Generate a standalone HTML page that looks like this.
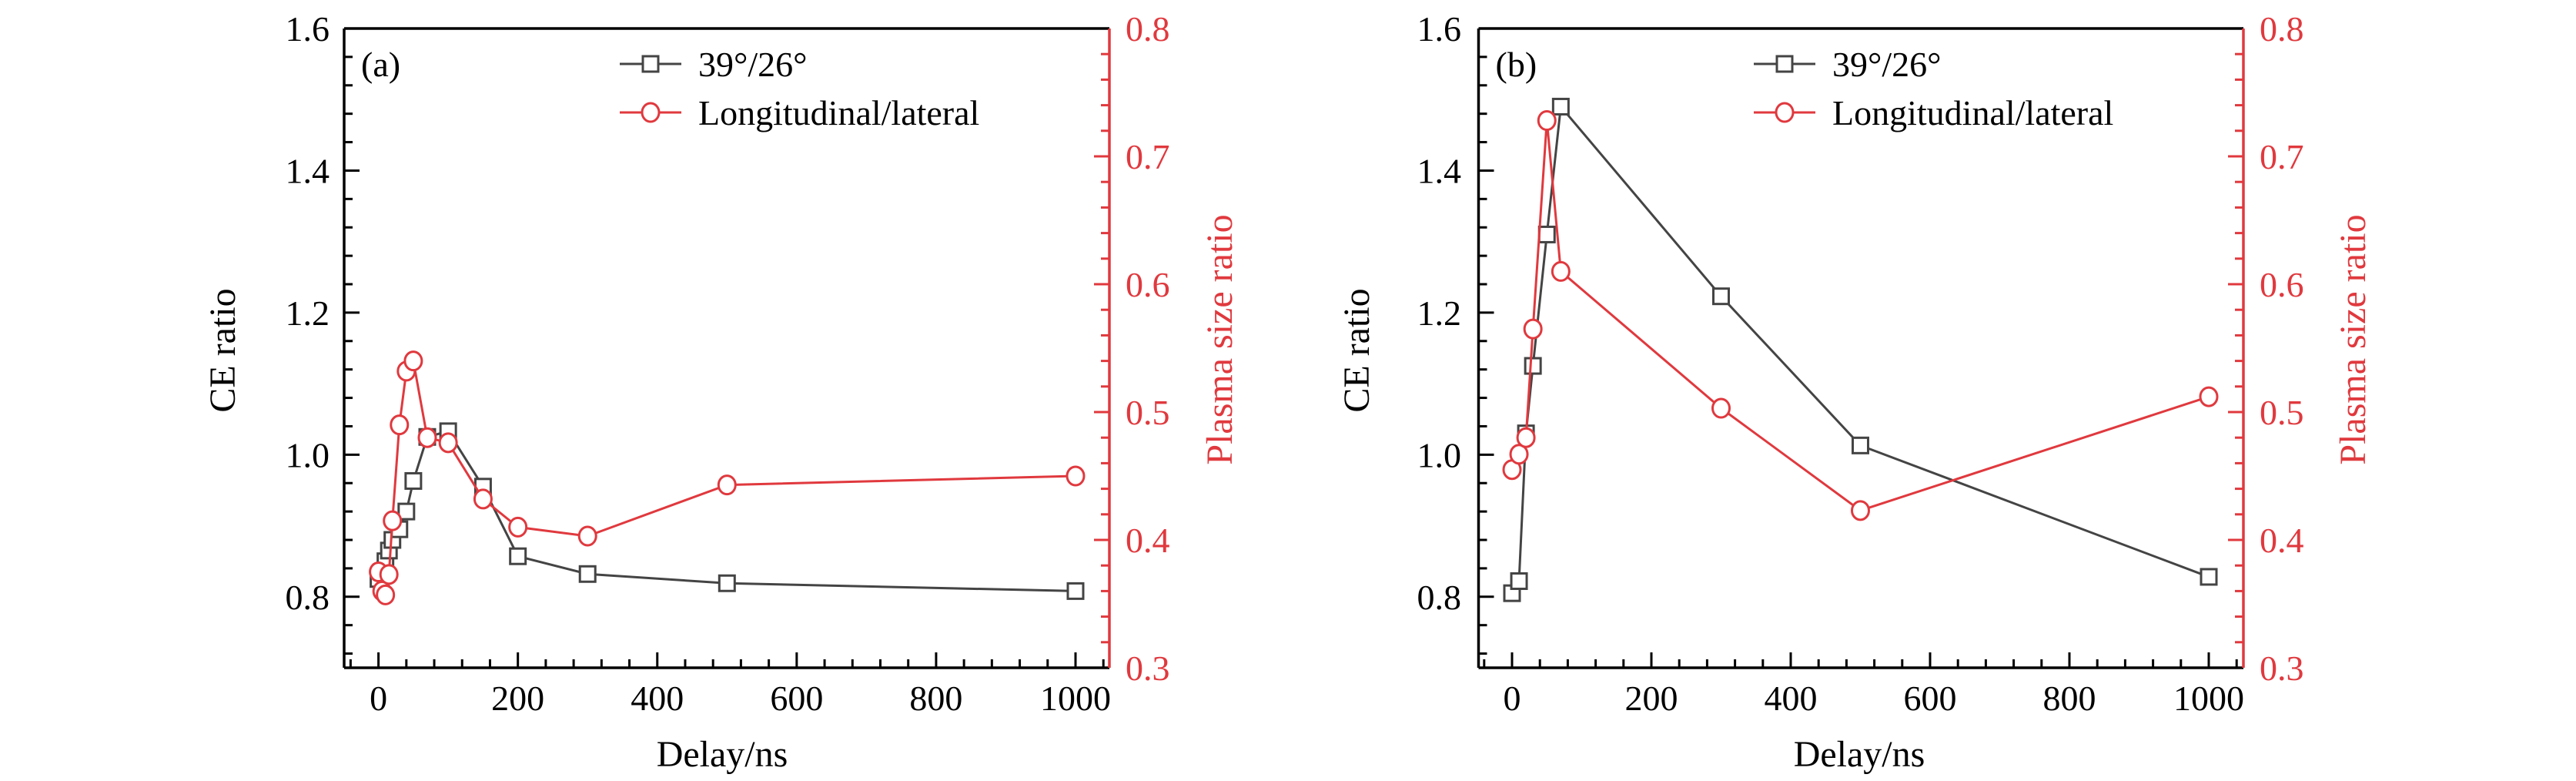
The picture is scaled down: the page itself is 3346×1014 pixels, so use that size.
<!DOCTYPE html>
<html><head><meta charset="utf-8"><style>
html,body{margin:0;padding:0;background:#fff;}
svg{display:block;font-family:"Liberation Serif",serif;}
</style></head><body>
<svg id="chart" width="3346" height="1014" viewBox="0 0 3346 1014"></svg>
<script>
const xTicks=[0,200,400,600,800,1000];
const leftTicks=[0.8,1.0,1.2,1.4,1.6];
const rightTicks=[0.3,0.4,0.5,0.6,0.7,0.8];
const aX=[0,5,10,15,20,30,40,50,70,100,150,200,300,500,1000];
const aCE=[0.825,0.835,0.85,0.865,0.88,0.895,0.92,0.963,1.025,1.033,0.955,0.857,0.832,0.819,0.808];
const aPlasma=[0.375,0.36,0.357,0.373,0.415,0.49,0.532,0.54,0.48,0.476,0.432,0.41,0.403,0.443,0.45];
const bX=[0,10,20,30,50,70,300,500,1000];
const bCE=[0.805,0.822,1.03,1.125,1.31,1.49,1.223,1.013,0.828];
const bPlasma=[0.455,0.467,0.48,0.565,0.728,0.61,0.503,0.423,0.512];
const RED='#e0393e', BLK='#444444';
const NS='http://www.w3.org/2000/svg';
const svg=document.getElementById('chart');
function mk(tag,attrs,parent,text){const e=document.createElementNS(NS,tag);for(const k in attrs)e.setAttribute(k,attrs[k]);if(text!==undefined)e.textContent=text;(parent||svg).appendChild(e);return e;}
const top_=37,bot=867;
function ly(v){return top_+(1.6-v)/(0.9)*(bot-top_);}
function ry(v){return top_+(0.8-v)/(0.5)*(bot-top_);}
function panel(p){
  const g=mk('g',{});
  
  
  const sx=v=>p.x0+v*(p.x1000-p.x0)/1000;
  // minor/major ticks
  for(let v=-40;v<=1040;v+=40){const X=sx(v);if(X<p.L||X>p.R)continue;const major=v%200===0;mk('line',{x1:X,x2:X,y1:bot,y2:bot-(major?20:11),stroke:'#000','stroke-width':3},g);}
  for(let i=0;i<=22;i++){const v=0.72+i*0.04;const Y=ly(v);if(Y<top_)continue;const major=Math.abs((v*10)%2)<0.01||Math.abs((v*10)%2-2)<0.01;mk('line',{x1:p.L,x2:p.L+(major?20:11),y1:Y,y2:Y,stroke:'#000','stroke-width':3},g);}
  for(let i=0;i<=25;i++){const v=0.3+i*0.02;const Y=ry(v);const major=i%5===0;mk('line',{x1:p.R,x2:p.R-(major?20:11),y1:Y,y2:Y,stroke:RED,'stroke-width':3},g);}
  // axes
  mk('line',{x1:p.L,x2:p.R,y1:top_,y2:top_,stroke:'#000','stroke-width':3.5},g);
  mk('line',{x1:p.L,x2:p.R,y1:bot,y2:bot,stroke:'#000','stroke-width':3.5},g);
  mk('line',{x1:p.L,x2:p.L,y1:top_,y2:bot,stroke:'#000','stroke-width':3.5},g);
  mk('line',{x1:p.R,x2:p.R,y1:top_,y2:bot,stroke:RED,'stroke-width':3.5},g);
  xTicks.forEach(v=>{const t=mk('text',{x:sx(v),y:922,'font-size':46,'text-anchor':'middle'},g,String(v));});
  leftTicks.forEach(v=>{const t=mk('text',{x:p.lLab,y:ly(v)+16,'font-size':46,'text-anchor':'end'},g,v.toFixed(1));});
  rightTicks.forEach(v=>{const t=mk('text',{x:p.rLab,y:ry(v)+16,'font-size':46,fill:RED},g,v.toFixed(1));});
  let t=mk('text',{x:p.xTitle,y:995,'font-size':48,'text-anchor':'middle'},g,'Delay/ns');
  
  t=mk('text',{x:0,y:0,'font-size':48,'text-anchor':'middle',transform:`translate(${p.lTitle},455) rotate(-90)`},g,'CE ratio');
  
  t=mk('text',{x:0,y:0,'font-size':48,'text-anchor':'middle',fill:RED,transform:`translate(${p.rTitle},441) rotate(-90)`},g,'Plasma size ratio');
  
  t=mk('text',{x:p.L+22,y:99,'font-size':46},g,'('+p.id+')');
  
  // series
  const ptsB=p.xs.map((x,i)=>[sx(x),ly(p.ce[i])]);
  const ptsR=p.xs.map((x,i)=>[sx(x),ry(p.pl[i])]);
  let s=mk('polyline',{points:ptsB.map(q=>q.join(',')).join(' '),fill:'none',stroke:BLK,'stroke-width':3},g);
  
  ptsB.forEach(q=>{const m=mk('rect',{x:q[0]-10,y:q[1]-10,width:20,height:20,fill:'#fff',stroke:BLK,'stroke-width':3},g);});
  s=mk('polyline',{points:ptsR.map(q=>q.join(',')).join(' '),fill:'none',stroke:RED,'stroke-width':3},g);
  
  ptsR.forEach(q=>{const m=mk('ellipse',{cx:q[0],cy:q[1],rx:11,ry:12,fill:'#fff',stroke:RED,'stroke-width':3},g);});
  // legend
  const lg=mk('g',{},g);
  
  mk('line',{x1:p.lgX,x2:p.lgX+80,y1:83,y2:83,stroke:BLK,'stroke-width':3},lg);
  mk('rect',{x:p.lgX+30,y:73,width:20,height:20,fill:'#fff',stroke:BLK,'stroke-width':3},lg);
  t=mk('text',{x:p.lgX+102,y:99,'font-size':46},lg,'39°/26°');
  
  mk('line',{x1:p.lgX,x2:p.lgX+80,y1:146,y2:146,stroke:RED,'stroke-width':3},lg);
  mk('ellipse',{cx:p.lgX+40,cy:146,rx:11,ry:12,fill:'#fff',stroke:RED,'stroke-width':3},lg);
  t=mk('text',{x:p.lgX+102,y:162,'font-size':46},lg,'Longitudinal/lateral');
  
}
panel({id:'a',L:447,R:1441,x0:491.6,x1000:1397,lLab:428,rLab:1462,xTitle:938,lTitle:305,rTitle:1600,lgX:805,xs:aX,ce:aCE,pl:aPlasma});
panel({id:'b',L:1920.5,R:2914,x0:1964,x1000:2869,lLab:1898,rLab:2935,xTitle:2415,lTitle:1778,rTitle:3072,lgX:2278,xs:bX,ce:bCE,pl:bPlasma});
</script>
</body></html>
